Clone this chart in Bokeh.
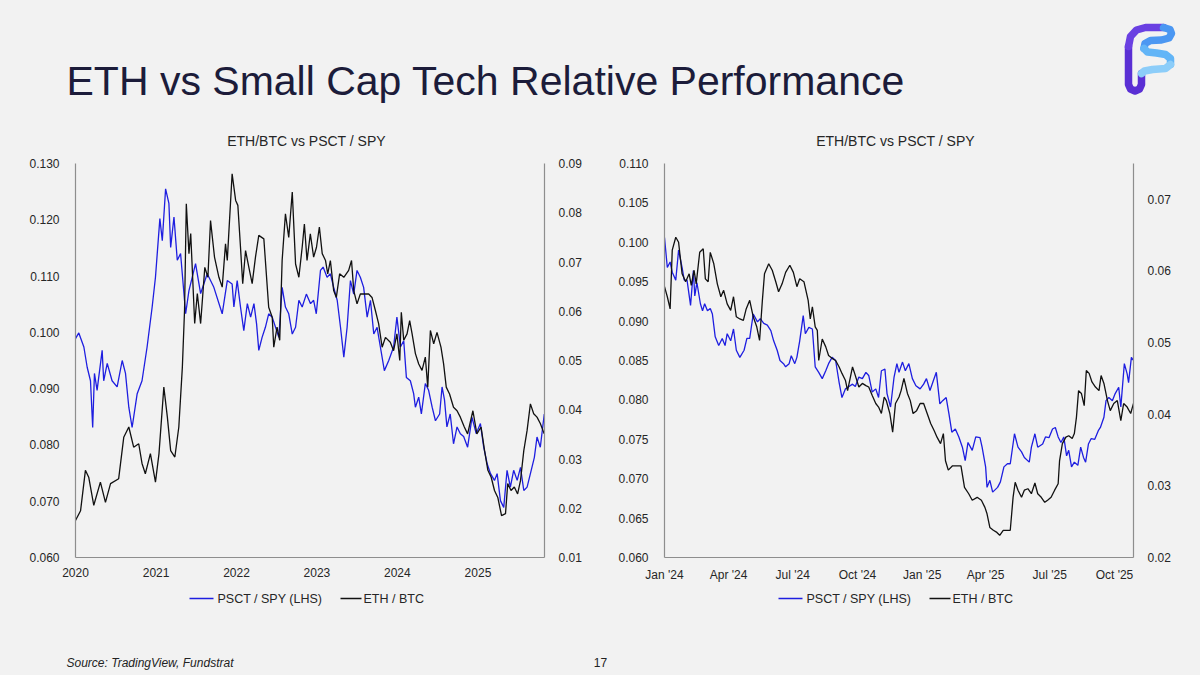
import pandas as pd
from bokeh.plotting import figure
from bokeh.models import Range1d, LinearAxis, FixedTicker
from bokeh.layouts import column, row
from bokeh.core.properties import value
from bokeh.embed import file_html
from bokeh.resources import INLINE

# ---------------- DATA ----------------
PAGE_TITLE = "ETH vs Small Cap Tech Relative Performance"
CHART_TITLE = "ETH/BTC vs PSCT / SPY"
SOURCE = "Source: TradingView, Fundstrat"
PAGE_NO = "17"
SERIES_NAMES = ["PSCT / SPY (LHS)", "ETH / BTC"]

# Left chart (2020 - 2025)
L_PSCT_DATES = ["2020-01-01","2020-01-16","2020-02-08","2020-02-23","2020-03-09","2020-03-19","2020-03-27","2020-04-08","2020-05-01","2020-05-08","2020-05-24","2020-06-15","2020-07-08","2020-07-31","2020-08-15","2020-08-30","2020-09-14","2020-10-07","2020-10-29","2020-11-21","2020-12-14","2020-12-29",
    "2021-01-18","2021-01-29","2021-02-13","2021-02-28","2021-03-08","2021-03-23","2021-04-07","2021-04-22","2021-05-15","2021-05-30","2021-06-29","2021-07-22","2021-08-21","2021-09-20","2021-10-28","2021-11-20","2021-12-12","2021-12-20",
    "2022-01-04","2022-01-19","2022-02-03","2022-02-19","2022-03-06","2022-03-21","2022-04-02","2022-04-12","2022-04-27","2022-05-12","2022-05-27","2022-06-12","2022-06-27","2022-07-12","2022-07-27","2022-08-11","2022-08-26","2022-09-11","2022-09-26","2022-10-11","2022-10-26","2022-11-14","2022-12-03","2022-12-17","2022-12-29",
    "2023-01-17","2023-01-29","2023-02-16","2023-03-03","2023-03-18","2023-04-03","2023-04-18","2023-05-03","2023-05-18","2023-06-02","2023-06-17","2023-07-02","2023-07-17","2023-08-01","2023-08-17","2023-09-01","2023-09-16","2023-10-01","2023-10-16","2023-11-03","2023-11-23","2023-12-15","2023-12-30",
    "2024-01-15","2024-01-30","2024-02-11","2024-02-29","2024-03-15","2024-03-23","2024-04-07","2024-04-19","2024-05-07","2024-05-22","2024-06-07","2024-06-22","2024-07-11","2024-07-22","2024-08-02","2024-08-13","2024-08-28","2024-09-12","2024-09-28","2024-10-13","2024-10-28","2024-11-15","2024-12-05","2024-12-24",
    "2025-01-12","2025-01-27","2025-02-12","2025-02-27","2025-03-17","2025-03-29","2025-04-13","2025-04-28","2025-05-13","2025-05-28","2025-06-12","2025-06-28","2025-07-13","2025-07-28","2025-08-12","2025-08-27","2025-09-14","2025-09-26","2025-10-11","2025-10-29"]
L_PSCT_VALUES = [0.0989,0.0999,0.0974,0.0938,0.0914,0.0831,0.0927,0.0897,0.0968,0.0914,0.0945,0.0914,0.0903,0.0950,0.0927,0.0867,0.0831,0.0891,0.0914,0.0974,0.1045,0.1098,
    0.1202,0.1163,0.1255,0.1229,0.1151,0.1205,0.1128,0.1140,0.1033,0.1074,0.1122,0.1069,0.1104,0.1080,0.1033,0.1092,0.1086,0.1045,
    0.1092,0.1045,0.1003,0.1051,0.1027,0.1051,0.1015,0.0968,0.0991,0.1009,0.1033,0.1027,0.1009,0.0991,0.1080,0.1045,0.1033,0.0997,0.1009,0.1057,0.1045,0.1068,0.1051,0.1057,0.1033,
    0.1110,0.1116,0.1098,0.1104,0.1080,0.1057,0.1009,0.0956,0.1009,0.1092,0.1068,0.1110,0.1098,0.1080,0.1027,0.1057,0.0997,0.1009,0.0974,0.0932,0.0950,0.0974,0.1027,
    0.0974,0.0985,0.0920,0.0914,0.0891,0.0867,0.0885,0.0855,0.0909,0.0897,0.0867,0.0843,0.0855,0.0903,0.0880,0.0832,0.0855,0.0802,0.0832,0.0820,0.0815,0.0796,0.0849,0.0820,
    0.0838,0.0796,0.0766,0.0749,0.0737,0.0749,0.0701,0.0689,0.0755,0.0725,0.0755,0.0737,0.0760,0.0719,0.0725,0.0749,0.0778,0.0814,0.0796,0.0855]

L_ETH_DATES = ["2020-01-01","2020-01-24","2020-02-15","2020-03-01","2020-03-24","2020-04-23","2020-05-16","2020-06-08","2020-07-15","2020-08-07","2020-08-30","2020-09-21","2020-10-14","2020-10-29","2020-11-13","2020-12-06","2020-12-29",
    "2021-01-14","2021-02-05","2021-02-21","2021-03-08","2021-03-27","2021-04-14","2021-04-30","2021-05-10","2021-05-18","2021-05-30","2021-06-07","2021-06-25","2021-07-07","2021-07-22","2021-08-10","2021-08-24","2021-09-05","2021-09-23","2021-10-13","2021-10-28","2021-11-12","2021-11-20","2021-12-12","2021-12-28",
    "2022-01-07","2022-01-19","2022-01-29","2022-02-11","2022-02-26","2022-03-13","2022-03-28","2022-04-12","2022-05-05","2022-05-27","2022-06-12","2022-06-19","2022-07-04","2022-07-16","2022-07-27","2022-08-11","2022-08-26","2022-09-11","2022-09-26","2022-10-11","2022-10-26","2022-11-05","2022-11-17","2022-12-02","2022-12-17","2022-12-30",
    "2023-01-12","2023-01-25","2023-02-09","2023-02-19","2023-03-03","2023-03-18","2023-03-30","2023-04-14","2023-05-03","2023-05-25","2023-06-07","2023-06-17","2023-07-02","2023-07-17","2023-08-01","2023-08-24","2023-09-08","2023-09-23","2023-10-08","2023-10-24","2023-11-08","2023-11-30","2023-12-15","2023-12-30",
    "2024-01-12","2024-01-19","2024-01-30","2024-02-14","2024-02-26","2024-03-08","2024-03-23","2024-04-07","2024-04-22","2024-05-07","2024-05-18","2024-05-30","2024-06-14","2024-06-29","2024-07-17","2024-07-29","2024-08-10","2024-08-25","2024-09-12","2024-09-28","2024-10-13","2024-10-31","2024-11-15","2024-12-09","2024-12-27",
    "2025-01-15","2025-01-31","2025-02-15","2025-03-02","2025-03-17","2025-04-01","2025-04-18","2025-05-06","2025-05-16","2025-05-31","2025-06-15","2025-06-30","2025-07-13","2025-07-28","2025-08-12","2025-08-27","2025-09-11","2025-09-26","2025-10-11","2025-10-29"]
L_ETH_VALUES = [0.0175,0.0195,0.0277,0.0263,0.0206,0.0253,0.0212,0.0250,0.0260,0.0344,0.0365,0.0324,0.0331,0.0291,0.0270,0.0311,0.0253,
    0.0311,0.0446,0.0385,0.0317,0.0304,0.0365,0.0486,0.0602,0.0818,0.0717,0.0758,0.0575,0.0636,0.0575,0.0689,0.0669,0.0784,0.0710,0.0669,0.0649,0.0737,0.0703,0.0879,0.0825,
    0.0815,0.0730,0.0656,0.0723,0.0689,0.0656,0.0710,0.0754,0.0747,0.0608,0.0588,0.0527,0.0568,0.0541,0.0703,0.0798,0.0750,0.0842,0.0696,0.0669,0.0730,0.0777,0.0703,0.0757,0.0710,0.0730,
    0.0771,0.0717,0.0703,0.0676,0.0703,0.0642,0.0628,0.0676,0.0669,0.0683,0.0703,0.0642,0.0615,0.0635,0.0635,0.0635,0.0628,0.0602,0.0575,0.0527,0.0547,0.0537,0.0520,0.0554,
    0.0500,0.0598,0.0541,0.0554,0.0581,0.0554,0.0514,0.0493,0.0480,0.0507,0.0446,0.0561,0.0534,0.0557,0.0527,0.0493,0.0446,0.0432,0.0405,0.0398,0.0385,0.0365,0.0351,0.0398,0.0351,
    0.0365,0.0317,0.0277,0.0263,0.0236,0.0222,0.0185,0.0189,0.0250,0.0236,0.0243,0.0229,0.0256,0.0317,0.0358,0.0412,0.0392,0.0385,0.0372,0.0351]

L_X_TICKS = ["2020-01-01","2021-01-01","2022-01-01","2023-01-01","2024-01-01","2025-01-01"]
L_X_LABELS = ["2020","2021","2022","2023","2024","2025"]
L_X_END = "2025-10-30"
L_LEFT_TICKS = [0.060,0.070,0.080,0.090,0.100,0.110,0.120,0.130]
L_LEFT_LABELS = ["0.060","0.070","0.080","0.090","0.100","0.110","0.120","0.130"]
L_RIGHT_TICKS = [0.01,0.02,0.03,0.04,0.05,0.06,0.07,0.08,0.09]
L_RIGHT_LABELS = ["0.01","0.02","0.03","0.04","0.05","0.06","0.07","0.08","0.09"]
L_RIGHT_MAX = 0.09

# Right chart (Jan 2024 - Oct 2025)
R_PSCT_DATES = ["2024-01-01","2024-01-05","2024-01-09","2024-01-12","2024-01-17","2024-01-21","2024-01-26","2024-01-29","2024-02-02","2024-02-07","2024-02-11","2024-02-13","2024-02-16","2024-02-21","2024-02-24","2024-02-27",
    "2024-03-02","2024-03-06","2024-03-09","2024-03-13","2024-03-18","2024-03-23","2024-03-27","2024-03-30","2024-04-04","2024-04-08","2024-04-12","2024-04-17","2024-04-23","2024-04-27",
    "2024-05-01","2024-05-06","2024-05-12","2024-05-16","2024-05-21","2024-05-26","2024-05-31","2024-06-04","2024-06-09","2024-06-13","2024-06-18","2024-06-21","2024-06-26","2024-06-29",
    "2024-07-04","2024-07-07","2024-07-11","2024-07-16","2024-07-19","2024-07-24","2024-07-29","2024-08-02","2024-08-07","2024-08-12","2024-08-17","2024-08-21","2024-08-26","2024-08-31",
    "2024-09-05","2024-09-09","2024-09-14","2024-09-19","2024-09-24","2024-09-28","2024-10-03","2024-10-08","2024-10-13","2024-10-17","2024-10-22","2024-10-27","2024-10-31",
    "2024-11-04","2024-11-09","2024-11-12","2024-11-17","2024-11-22","2024-11-26","2024-11-29","2024-12-04","2024-12-08","2024-12-13","2024-12-18","2024-12-23","2024-12-29",
    "2025-01-03","2025-01-07","2025-01-12","2025-01-17","2025-01-21","2025-01-26","2025-01-30","2025-02-04","2025-02-08","2025-02-12","2025-02-17","2025-02-22","2025-02-27",
    "2025-03-03","2025-03-07","2025-03-13","2025-03-18","2025-03-24","2025-03-27","2025-04-01","2025-04-03","2025-04-07","2025-04-11","2025-04-18","2025-04-22","2025-04-27",
    "2025-05-02","2025-05-06","2025-05-12","2025-05-17","2025-05-22","2025-05-26","2025-06-02","2025-06-05","2025-06-10","2025-06-14","2025-06-21","2025-06-25","2025-06-30",
    "2025-07-05","2025-07-09","2025-07-13","2025-07-17","2025-07-21","2025-07-25","2025-07-28","2025-08-01","2025-08-05","2025-08-10","2025-08-14","2025-08-18","2025-08-21","2025-08-25","2025-08-29",
    "2025-09-03","2025-09-08","2025-09-11","2025-09-16","2025-09-19","2025-09-23","2025-09-28","2025-10-02","2025-10-07","2025-10-10","2025-10-15","2025-10-19","2025-10-21","2025-10-25","2025-10-28"]
R_PSCT_VALUES = [0.1006,0.0968,0.0975,0.0962,0.0952,0.0990,0.0968,0.0952,0.0952,0.0920,0.0964,0.0932,0.0949,0.0922,0.0913,0.0922,
    0.0913,0.0916,0.0909,0.0880,0.0869,0.0878,0.0869,0.0884,0.0875,0.0890,0.0863,0.0854,0.0863,0.0878,
    0.0878,0.0909,0.0899,0.0903,0.0897,0.0895,0.0888,0.0875,0.0863,0.0850,0.0846,0.0842,0.0846,0.0856,
    0.0846,0.0854,0.0875,0.0907,0.0884,0.0892,0.0890,0.0842,0.0835,0.0827,0.0837,0.0846,0.0854,0.0850,
    0.0822,0.0803,0.0814,0.0817,0.0820,0.0817,0.0829,0.0827,0.0835,0.0831,0.0810,0.0814,0.0803,
    0.0837,0.0839,0.0808,0.0791,0.0829,0.0846,0.0835,0.0848,0.0837,0.0846,0.0827,0.0818,0.0814,
    0.0820,0.0827,0.0812,0.0825,0.0835,0.0795,0.0799,0.0803,0.0782,0.0759,0.0763,0.0753,0.0740,
    0.0723,0.0746,0.0736,0.0753,0.0752,0.0740,0.0715,0.0689,0.0698,0.0683,0.0689,0.0696,0.0715,
    0.0719,0.0719,0.0757,0.0740,0.0734,0.0727,0.0721,0.0740,0.0757,0.0740,0.0744,0.0753,0.0752,
    0.0763,0.0765,0.0753,0.0746,0.0753,0.0729,0.0736,0.0715,0.0721,0.0717,0.0740,0.0727,0.0721,0.0744,0.0751,
    0.0750,0.0761,0.0765,0.0778,0.0799,0.0803,0.0799,0.0808,0.0816,0.0791,0.0846,0.0833,0.0822,0.0854,0.0850]

R_ETH_DATES = ["2024-01-01","2024-01-05","2024-01-09","2024-01-12","2024-01-17","2024-01-21","2024-01-26","2024-01-31","2024-02-05","2024-02-08","2024-02-12","2024-02-15","2024-02-20","2024-02-25","2024-02-28",
    "2024-03-03","2024-03-06","2024-03-11","2024-03-16","2024-03-21","2024-03-25","2024-03-30","2024-04-04","2024-04-08","2024-04-12","2024-04-17","2024-04-22","2024-04-26",
    "2024-05-01","2024-05-06","2024-05-11","2024-05-15","2024-05-19","2024-05-22","2024-05-28","2024-06-02","2024-06-07","2024-06-11","2024-06-16","2024-06-21","2024-06-27",
    "2024-07-02","2024-07-07","2024-07-11","2024-07-17","2024-07-23","2024-07-26","2024-07-29","2024-08-02","2024-08-05","2024-08-07","2024-08-12","2024-08-17","2024-08-21","2024-08-26","2024-08-31",
    "2024-09-05","2024-09-09","2024-09-14","2024-09-17","2024-09-24","2024-09-27","2024-10-03","2024-10-08","2024-10-13","2024-10-17","2024-10-22","2024-10-27","2024-10-31",
    "2024-11-04","2024-11-08","2024-11-11","2024-11-16","2024-11-20","2024-11-24","2024-11-29","2024-12-02","2024-12-06","2024-12-11","2024-12-15","2024-12-19","2024-12-24","2024-12-29",
    "2025-01-03","2025-01-08","2025-01-13","2025-01-18","2025-01-22","2025-01-27","2025-01-31","2025-02-03","2025-02-07","2025-02-13","2025-02-20","2025-02-25",
    "2025-03-02","2025-03-08","2025-03-13","2025-03-20","2025-03-26","2025-03-31","2025-04-03","2025-04-07","2025-04-12","2025-04-17","2025-04-21","2025-04-26",
    "2025-05-02","2025-05-06","2025-05-10","2025-05-13","2025-05-17","2025-05-22","2025-05-26","2025-05-31","2025-06-05","2025-06-10","2025-06-14","2025-06-19","2025-06-24","2025-06-28",
    "2025-07-03","2025-07-08","2025-07-13","2025-07-15","2025-07-19","2025-07-24","2025-07-28","2025-08-02","2025-08-05","2025-08-08","2025-08-11","2025-08-15","2025-08-19","2025-08-22","2025-08-26","2025-08-30",
    "2025-09-04","2025-09-09","2025-09-12","2025-09-16","2025-09-21","2025-09-25","2025-09-30","2025-10-05","2025-10-10","2025-10-14","2025-10-19","2025-10-24","2025-10-28"]
R_ETH_VALUES = [0.0578,0.0564,0.0547,0.0629,0.0647,0.0640,0.0596,0.0585,0.0596,0.0580,0.0601,0.0582,0.0626,0.0631,0.0589,
    0.0585,0.0626,0.0610,0.0582,0.0564,0.0573,0.0554,0.0545,0.0564,0.0536,0.0533,0.0531,0.0547,
    0.0559,0.0536,0.0522,0.0503,0.0559,0.0596,0.0610,0.0601,0.0585,0.0571,0.0582,0.0598,0.0608,
    0.0598,0.0578,0.0589,0.0585,0.0559,0.0533,0.0550,0.0522,0.0517,0.0475,0.0505,0.0494,0.0482,0.0478,0.0475,
    0.0466,0.0457,0.0447,0.0433,0.0466,0.0457,0.0438,0.0443,0.0440,0.0438,0.0426,0.0415,0.0410,
    0.0401,0.0424,0.0419,0.0401,0.0375,0.0415,0.0424,0.0433,0.0450,0.0429,0.0419,0.0401,0.0405,0.0415,
    0.0415,0.0401,0.0387,0.0377,0.0368,0.0359,0.0373,0.0335,0.0322,0.0328,0.0328,0.0328,
    0.0298,0.0289,0.0280,0.0284,0.0280,0.0270,0.0261,0.0242,0.0238,0.0235,0.0231,0.0238,
    0.0238,0.0238,0.0284,0.0305,0.0294,0.0284,0.0294,0.0296,0.0289,0.0304,0.0289,0.0284,0.0277,0.0280,
    0.0284,0.0294,0.0303,0.0335,0.0359,0.0368,0.0370,0.0366,0.0373,0.0396,0.0433,0.0429,0.0412,0.0461,0.0457,0.0445,
    0.0438,0.0433,0.0454,0.0443,0.0419,0.0405,0.0415,0.0419,0.0391,0.0415,0.0410,0.0401,0.0415]

R_X_TICKS = ["2024-01-01","2024-04-01","2024-07-01","2024-10-01","2025-01-01","2025-04-01","2025-07-01","2025-10-01"]
R_X_LABELS = ["Jan '24","Apr '24","Jul '24","Oct '24","Jan '25","Apr '25","Jul '25","Oct '25"]
R_X_END = "2025-10-28"
R_LEFT_TICKS = [0.060,0.065,0.070,0.075,0.080,0.085,0.090,0.095,0.100,0.105,0.110]
R_LEFT_LABELS = ["0.060","0.065","0.070","0.075","0.080","0.085","0.090","0.095","0.100","0.105","0.110"]
R_RIGHT_TICKS = [0.02,0.03,0.04,0.05,0.06,0.07]
R_RIGHT_LABELS = ["0.02","0.03","0.04","0.05","0.06","0.07"]
R_RIGHT_MAX = 0.075

# ---------------- STYLE ----------------
BG = "#f2f2f2"
FONT = "Liberation Sans"
BLUE = "#1e1ee0"
BLACK = "#111111"
AXIS_C = "#8e8e8e"
TXT = "#262626"
LINE_W = 1.3
FIG_W = 600


def ms(d):
    return pd.Timestamp(d).value // 10**6


def make_chart(psct_d, psct_v, eth_d, eth_v, x_ticks, x_labels, x_end,
               l_ticks, l_labels, r_ticks, r_labels, r_max, b_left, b_right):
    p = figure(width=FIG_W, height=435, x_axis_type="datetime",
               x_range=Range1d(ms(x_ticks[0]), ms(x_end)),
               y_range=Range1d(l_ticks[0], l_ticks[-1]),
               output_backend="svg", toolbar_location=None,
               min_border_left=b_left, min_border_right=b_right,
               min_border_top=13, min_border_bottom=28,
               background_fill_color=BG, border_fill_color=BG,
               outline_line_color=None)

    p.extra_y_ranges = {"eth": Range1d(r_ticks[0], r_max)}
    rax = LinearAxis(y_range_name="eth")
    p.add_layout(rax, "right")

    p.xaxis[0].ticker = FixedTicker(ticks=[ms(d) for d in x_ticks])
    p.xaxis[0].major_label_overrides = {ms(d): lab for d, lab in zip(x_ticks, x_labels)}
    p.yaxis[0].ticker = FixedTicker(ticks=l_ticks)
    p.yaxis[0].major_label_overrides = dict(zip(l_ticks, l_labels))
    rax.ticker = FixedTicker(ticks=r_ticks)
    rax.major_label_overrides = dict(zip(r_ticks, r_labels))

    for ax in [p.xaxis[0], p.yaxis[0], rax]:
        ax.axis_line_color = AXIS_C
        ax.axis_line_width = 1.2
        ax.major_tick_line_color = None
        ax.minor_tick_line_color = None
        ax.major_label_text_font = FONT
        ax.major_label_text_font_size = "12px"
        ax.major_label_text_color = TXT
    p.xaxis[0].major_label_standoff = 4
    p.yaxis[0].major_label_standoff = 10
    rax.major_label_standoff = 8

    p.xgrid.grid_line_color = None
    p.ygrid.grid_line_color = None

    p.line(pd.to_datetime(psct_d), psct_v, line_color=BLUE, line_width=LINE_W)
    p.line(pd.to_datetime(eth_d), eth_v, line_color=BLACK, line_width=LINE_W,
           y_range_name="eth")
    return p


def make_legend(x0, b_left, b_right):
    # hand-drawn legend (swatch + label per series); the x range is in the
    # figure's pixel units, matching the frame that the column aligns with the chart above
    lf = figure(width=FIG_W, height=27, x_range=Range1d(b_left, FIG_W - b_right),
                y_range=Range1d(27, 0),
                x_axis_type=None, y_axis_type=None, output_backend="svg",
                toolbar_location=None, min_border=0,
                min_border_left=b_left, min_border_right=b_right,
                outline_line_color=None,
                background_fill_color=BG, border_fill_color=BG)
    yc = 13
    lf.line([x0, x0 + 24], [yc, yc], line_color=BLUE, line_width=LINE_W)
    lf.text(x=[x0 + 28], y=[yc], text=[SERIES_NAMES[0]], text_font=value(FONT),
            text_font_size=value("12.5px"), text_color=TXT,
            text_baseline="middle", text_align="left")
    lf.line([x0 + 151, x0 + 172], [yc, yc], line_color=BLACK, line_width=LINE_W)
    lf.text(x=[x0 + 174], y=[yc], text=[SERIES_NAMES[1]], text_font=value(FONT),
            text_font_size=value("12.5px"), text_color=TXT,
            text_baseline="middle", text_align="left")
    return lf


left = make_chart(L_PSCT_DATES, L_PSCT_VALUES, L_ETH_DATES, L_ETH_VALUES,
                  L_X_TICKS, L_X_LABELS, L_X_END,
                  L_LEFT_TICKS, L_LEFT_LABELS, L_RIGHT_TICKS, L_RIGHT_LABELS, L_RIGHT_MAX,
                  75, 56)
right = make_chart(R_PSCT_DATES, R_PSCT_VALUES, R_ETH_DATES, R_ETH_VALUES,
                   R_X_TICKS, R_X_LABELS, R_X_END,
                   R_LEFT_TICKS, R_LEFT_LABELS, R_RIGHT_TICKS, R_RIGHT_LABELS, R_RIGHT_MAX,
                   64, 67)
left_leg = make_legend(189, 75, 56)
right_leg = make_legend(178, 64, 67)

# ---------------- HEADER (page title, logo, chart titles) ----------------
header = figure(width=1200, height=150, x_range=Range1d(0, 1200), y_range=Range1d(150, 0),
                x_axis_type=None, y_axis_type=None, output_backend="svg",
                toolbar_location=None, min_border=0, outline_line_color=None,
                background_fill_color=BG, border_fill_color=BG)
header.text(x=[66], y=[80], text=[PAGE_TITLE], text_font=value(FONT),
            text_font_size=value("41px"), text_color="#1c1c3a",
            text_baseline="middle", text_align="left")
header.text(x=[306, 895], y=[140, 140], text=[CHART_TITLE, CHART_TITLE], text_font=value(FONT),
            text_font_size=value("14px"), text_color=TXT,
            text_baseline="middle", text_align="center")

# logo (decorative)
def lg(pts, color):
    header.line([a for a, b in pts], [b for a, b in pts], line_color=color,
                line_width=7.5, line_cap="round", line_join="round")
lg([(1128, 46), (1128, 84), (1130, 88.5), (1134.5, 90.5), (1139, 88.5), (1141, 84), (1141, 73)], "#5a2fd4")
lg([(1128, 46), (1130, 36), (1136, 29.5), (1145, 27), (1163, 27)], "#6a40e2")
lg([(1163, 27), (1169.5, 29), (1171, 33), (1168.5, 37.5), (1161, 39.5), (1150, 40), (1144.5, 43), (1143.5, 48)], "#4b97f2")
lg([(1143.5, 48), (1147, 51.5), (1156, 52.5), (1165, 54), (1170, 58), (1170, 64)], "#62b5f7")
lg([(1170, 64), (1165, 68), (1152, 69), (1144, 70.5), (1141, 73)], "#8ccdf9")

# ---------------- FOOTER ----------------
footer = figure(width=1200, height=62, x_range=Range1d(0, 1200), y_range=Range1d(62, 0),
                x_axis_type=None, y_axis_type=None, output_backend="svg",
                toolbar_location=None, min_border=0, outline_line_color=None,
                background_fill_color=BG, border_fill_color=BG)
footer.text(x=[66], y=[50], text=[SOURCE], text_font=value(FONT),
            text_font_size=value("12px"), text_font_style="italic", text_color="#222222",
            text_baseline="middle", text_align="left")
footer.text(x=[600], y=[50], text=[PAGE_NO], text_font=value(FONT),
            text_font_size=value("12px"), text_color="#222222",
            text_baseline="middle", text_align="center")

layout = column(header, row(column(left, left_leg), column(right, right_leg)), footer)
html = file_html(layout, INLINE, title="ETH vs Small Cap Tech")
html = html.replace("</head>", "<style>html, body { background-color: #f2f2f2; }</style></head>", 1)
open("out.html", "w").write(html)
